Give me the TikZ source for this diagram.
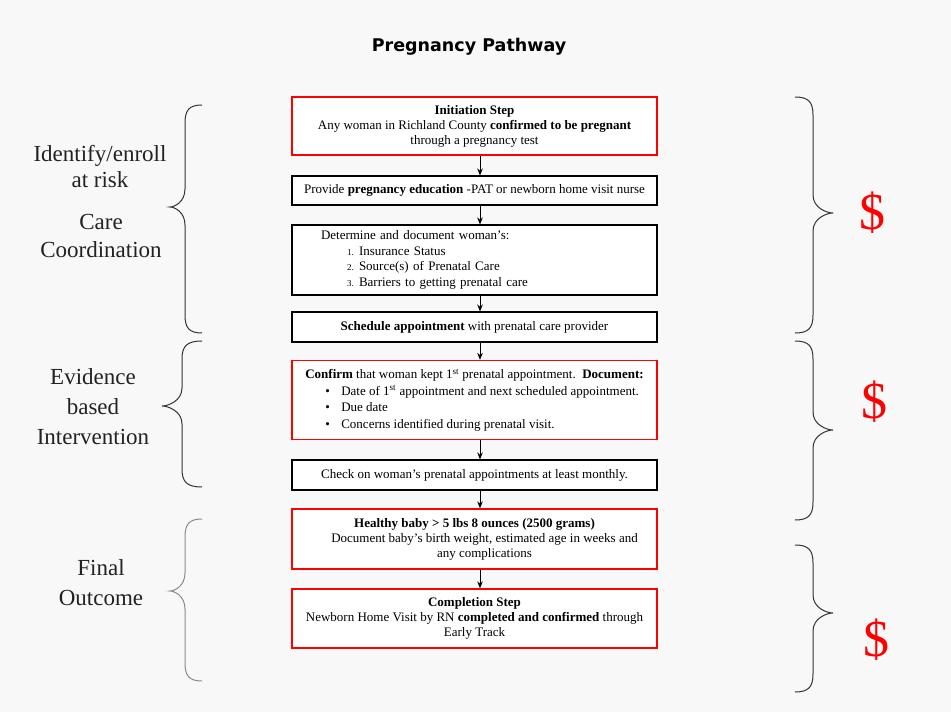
\documentclass[tikz,border=0pt]{standalone}
\usepackage{fontspec}
\setmainfont{Liberation Serif}
\newfontfamily\titlefont{DejaVu Sans}
\usetikzlibrary{arrows.meta}
\definecolor{bg}{HTML}{F8F8F8}
\definecolor{bracedark}{HTML}{333333}
\definecolor{bracelight}{HTML}{8A8A8A}
\definecolor{labtext}{HTML}{222222}
\tikzset{
 box/.style={draw=black, line width=1.1pt, fill=white, minimum width=365pt, inner xsep=0pt, inner ysep=0pt, font=\fontsize{13}{15}\selectfont, align=center},
 redbox/.style={box, draw=red, line width=1.3pt},
 arr/.style={-{Stealth[length=7pt,width=5.5pt]}, line width=1pt},
 lab/.style={font=\fontsize{23}{28}\selectfont, align=center, text=labtext},
 bracedk/.style={draw=bracedark, line width=1pt},
 bracelt/.style={draw=bracelight, line width=1pt},
 dollar/.style={text=red, font=\fontsize{52}{52}\selectfont},
}
\newcommand\drawbrace[7]{% style, xend, xspine, xtip, ytop, ytip, ybot
 \draw[#1] (#2,#5) .. controls ({#3+0.25*(#2-#3)},#5) and (#3,#5+5) .. (#3,#5+18)
 -- (#3,#6-18) .. controls (#3,#6-5) and ({#4+0.3*(#3-#4)},#6) .. (#4,#6)
 .. controls ({#4+0.3*(#3-#4)},#6) and (#3,#6+5) .. (#3,#6+18)
 -- (#3,#7-18) .. controls (#3,#7-5) and ({#3+0.25*(#2-#3)},#7) .. (#2,#7);}
\begin{document}
\begin{tikzpicture}[x=1pt,y=-1pt]
\useasboundingbox (0,0) rectangle (951,712);
\fill[bg] (0,0) rectangle (951,712);

\node[font=\titlefont\bfseries\fontsize{17.5}{20}\selectfont] (title) at (469,47) {Pregnancy Pathway};

\coordinate (ax) at (480,0);

\node[redbox, minimum height=58pt] (b1) at (474.5,126) {\textbf{Initiation Step}\\Any woman in Richland County \textbf{confirmed to be pregnant}\\through a pregnancy test};
\node[box, minimum height=29pt] (b2) at (474.5,190.5) {Provide \textbf{pregnancy education} -PAT or newborn home visit nurse};
\node[box, minimum height=70pt, text width=307pt, align=left, font=\fontsize{13}{15.5}\selectfont] (b3) at (474.5,260) {Determine and document woman’s:\\
\hspace*{26pt}\makebox[12pt][l]{\fontsize{9}{10}\selectfont 1.}Insurance Status\\
\hspace*{26pt}\makebox[12pt][l]{\fontsize{9}{10}\selectfont 2.}Source(s) of Prenatal Care\\
\hspace*{26pt}\makebox[12pt][l]{\fontsize{9}{10}\selectfont 3.}Barriers to getting prenatal care};
\node[box, minimum height=30pt] (b4) at (474.5,327) {\textbf{Schedule appointment} with prenatal care provider};
\node[redbox, minimum height=79pt, align=left, font=\fontsize{13}{16.5}\selectfont] (b5) at (474.5,400) {\textbf{Confirm} that woman kept 1\textsuperscript{st} prenatal appointment.\ \ \textbf{Document:}\\
\hspace*{20pt}\makebox[16pt][l]{\textbullet}Date of 1\textsuperscript{st} appointment and next scheduled appointment.\\
\hspace*{20pt}\makebox[16pt][l]{\textbullet}Due date\\
\hspace*{20pt}\makebox[16pt][l]{\textbullet}Concerns identified during prenatal visit.};
\node[box, minimum height=30pt] (b6) at (474.5,475) {Check on woman’s prenatal appointments at least monthly.};
\node[redbox, minimum height=60pt] (b7) at (474.5,539) {\textbf{Healthy baby > 5 lbs 8 ounces (2500 grams)}\\\hspace*{20pt}Document baby’s birth weight, estimated age in weeks and\\\hspace*{20pt}any complications};
\node[redbox, minimum height=59pt] (b8) at (474.5,618.5) {\textbf{Completion Step}\\Newborn Home Visit by RN \textbf{completed and confirmed} through\\Early Track};

\draw[arr] (b1.south -| ax) -- (b2.north -| ax);
\draw[arr] (b2.south -| ax) -- (b3.north -| ax);
\draw[arr] (b3.south -| ax) -- (b4.north -| ax);
\draw[arr] (b4.south -| ax) -- (b5.north -| ax);
\draw[arr] (b5.south -| ax) -- (b6.north -| ax);
\draw[arr] (b6.south -| ax) -- (b7.north -| ax);
\draw[arr] (b7.south -| ax) -- (b8.north -| ax);

\node[lab, font=\fontsize{23}{26}\selectfont] (l1) at (100,167) {Identify/enroll\\at risk};
\node[lab] (l2) at (101,236) {Care\\Coordination};
\node[lab, font=\fontsize{23}{30}\selectfont] (l3) at (93,407) {Evidence\\based\\Intervention};
\node[lab, font=\fontsize{23}{30}\selectfont] (l4) at (101,583) {Final\\Outcome};

\drawbrace{bracedk}{202}{185}{170}{105}{207}{333}
\drawbrace{bracedk}{202}{182}{162}{341}{406}{487}
\drawbrace{bracelt}{202}{185}{170}{519}{591}{681}

\drawbrace{bracedk}{795}{813}{833}{97}{213}{333}
\drawbrace{bracedk}{795}{813}{833}{341}{430}{520}
\drawbrace{bracedk}{795}{813}{833}{545}{613}{692}

\node[dollar] (d1) at (872,213) {\$};
\node[dollar] (d2) at (874,402) {\$};
\node[dollar] (d3) at (876,640) {\$};
\end{tikzpicture}
\end{document}
